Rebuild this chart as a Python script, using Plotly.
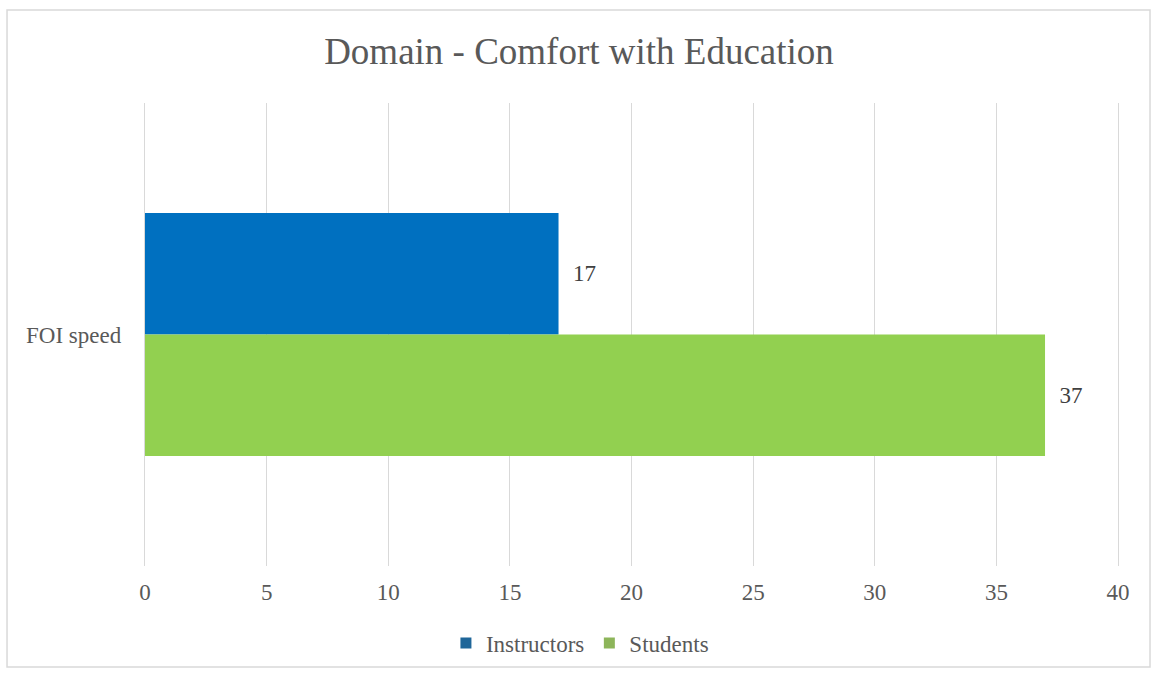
import plotly.graph_objects as go

categories = ["FOI speed"]
series_names = ["Instructors", "Students"]
instructors = [17]
students = [37]
x_ticks = [0, 5, 10, 15, 20, 25, 30, 35, 40]

bar_colors = {"Instructors": "#0070C0", "Students": "#92D050"}
legend_colors = {"Instructors": "#1F6699", "Students": "#8DB55A"}
font_family = "Liberation Serif, Times New Roman, serif"
text_color = "#595959"
grid_color = "#D9D9D9"
pad = "\u00a0" * 2

fig = go.Figure()
for name, vals in zip(series_names, [instructors, students]):
    fig.add_trace(go.Bar(
        name=name,
        y=categories,
        x=vals,
        orientation="h",
        marker=dict(color=bar_colors[name], line=dict(width=0)),
        text=[pad + str(v) for v in vals],
        textposition="outside",
        textfont=dict(family=font_family, size=23, color="#404040"),
        cliponaxis=False,
        showlegend=False,
        legendgroup=name,
    ))

# legend-only square markers
for name in series_names:
    fig.add_trace(go.Scatter(
        name=name, x=[None], y=[None], mode="markers",
        marker=dict(symbol="square", size=11, color=legend_colors[name]),
        legendgroup=name, showlegend=True, hoverinfo="skip",
    ))

# outer chart frame
fig.add_shape(type="rect", xref="paper", yref="paper",
              x0=-0.1418, x1=1.0329, y0=-0.218, y1=1.2009,
              line=dict(color=grid_color, width=1.5), fillcolor="rgba(0,0,0,0)",
              layer="below")

fig.update_layout(
    width=1158, height=677,
    margin=dict(l=145, r=40, t=103, b=111),
    paper_bgcolor="white", plot_bgcolor="white",
    barmode="group", bargap=0.475, bargroupgap=0,
    title=dict(text="Domain - Comfort with Education", x=0.5, xanchor="center",
               y=0.925, yanchor="middle",
               font=dict(family=font_family, size=37, color=text_color)),
    xaxis=dict(range=[0, 40], tickvals=x_ticks, showgrid=True, gridcolor=grid_color,
               gridwidth=1.3, zeroline=False, showline=False, ticks="",
               ticklabelstandoff=10,
               tickfont=dict(family=font_family, size=23, color=text_color)),
    yaxis=dict(autorange="reversed", showgrid=False, zeroline=False,
               showline=True, mirror=True, linecolor=grid_color, linewidth=1.3,
               ticks="", ticklabelstandoff=18,
               tickfont=dict(family=font_family, size=23, color=text_color)),
    legend=dict(orientation="h", x=0.447, xanchor="center", y=-0.12, yanchor="top",
                font=dict(family=font_family, size=23, color=text_color),
                itemwidth=30, traceorder="normal"),
    showlegend=True,
)

fig.write_html("out.html")
